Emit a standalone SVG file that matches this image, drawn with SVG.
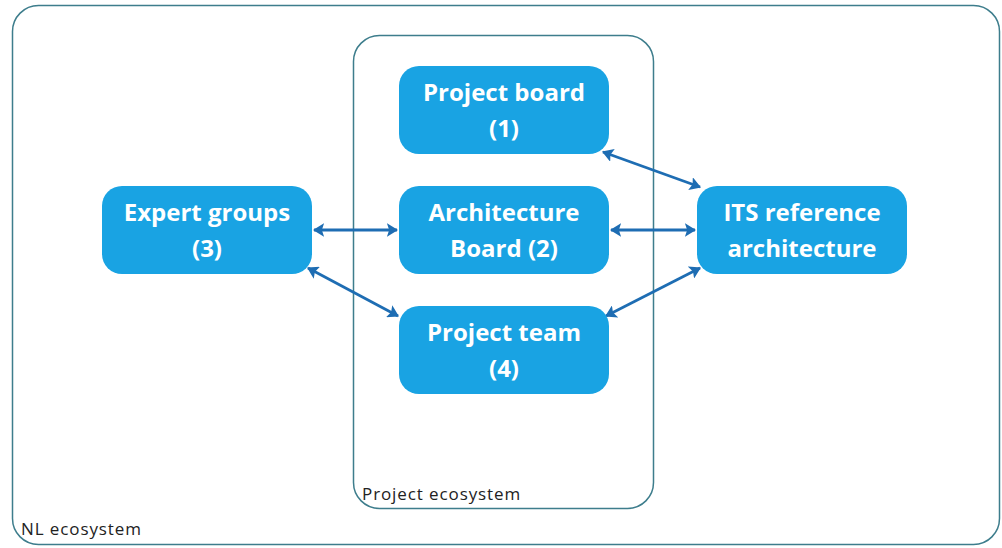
<svg xmlns="http://www.w3.org/2000/svg" width="1002" height="548" viewBox="0 0 1002 548">
  <defs>
    <marker id="ah" viewBox="0 0 10 12" refX="9" refY="6" markerWidth="4" markerHeight="4.8" orient="auto-start-reverse" markerUnits="strokeWidth">
      <path d="M0,0 L10,6 L0,12 L2,6 Z" fill="#1e6db3"/>
    </marker>
  </defs>
  <style>
    .zone { fill: none; stroke: #3d7d8c; stroke-width: 1.5; }
    .zone-label { font-family: "Open Sans", "Liberation Sans", sans-serif; font-size: 17px; letter-spacing: 0.9px; fill: #222; }
    .node rect { fill: #19a3e3; }
    .node text { font-family: "Open Sans", "Liberation Sans", sans-serif; font-weight: bold; font-size: 24px; fill: #ffffff; text-anchor: middle; }
    .link { stroke: #1e6db3; stroke-width: 2.8; fill: none; marker-start: url(#ah); marker-end: url(#ah); }
  </style>
  <rect width="1002" height="548" fill="#ffffff"/>

  <!-- containers -->
  <g id="nl-ecosystem">
    <rect class="zone" x="12.5" y="5.5" width="987" height="539" rx="26"/>
    <text class="zone-label" x="21" y="535">NL ecosystem</text>
  </g>
  <g id="project-ecosystem">
    <rect class="zone" x="353.5" y="35.5" width="300" height="473" rx="26"/>
    <text class="zone-label" x="362" y="500">Project ecosystem</text>
  </g>

  <!-- connectors -->
  <g id="connectors">
    <line class="link" x1="314" y1="230" x2="397" y2="230"/>
    <line class="link" x1="611" y1="230" x2="695" y2="230"/>
    <line class="link" x1="603" y1="152" x2="700" y2="187"/>
    <line class="link" x1="308" y1="268" x2="398" y2="316"/>
    <line class="link" x1="700" y1="268" x2="606" y2="316"/>
  </g>

  <!-- nodes -->
  <g id="project-board" class="node">
    <rect x="399" y="66" width="210" height="88" rx="20"/>
    <text x="504" y="101">Project board</text>
    <text x="504" y="137">(1)</text>
  </g>
  <g id="architecture-board" class="node">
    <rect x="399" y="186" width="210" height="88" rx="20"/>
    <text x="504" y="221">Architecture</text>
    <text x="504" y="257">Board (2)</text>
  </g>
  <g id="project-team" class="node">
    <rect x="399" y="306" width="210" height="88" rx="20"/>
    <text x="504" y="341">Project team</text>
    <text x="504" y="377">(4)</text>
  </g>
  <g id="expert-groups" class="node">
    <rect x="102" y="186" width="210" height="88" rx="20"/>
    <text x="207" y="221">Expert groups</text>
    <text x="207" y="257">(3)</text>
  </g>
  <g id="its-reference" class="node">
    <rect x="697" y="186" width="210" height="88" rx="20"/>
    <text x="802" y="221">ITS reference</text>
    <text x="802" y="257">architecture</text>
  </g>
</svg>
